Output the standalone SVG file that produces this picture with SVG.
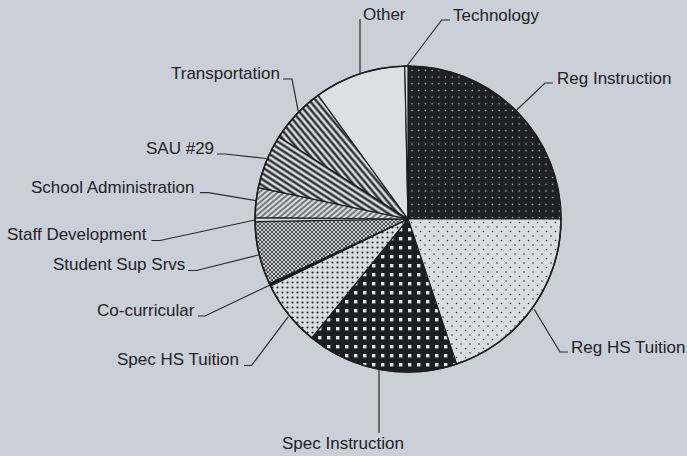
<svg xmlns="http://www.w3.org/2000/svg" width="687" height="456" viewBox="0 0 687 456">
<style>
.lbl{font-family:"Liberation Sans",Arial,sans-serif;font-size:17px;fill:#222226}
.sl{stroke:#1c1c22;stroke-width:1.2;stroke-linejoin:round}
.ld{fill:none;stroke:#2a2a30;stroke-width:1.2}
</style>
<defs>
<pattern id="pRI" width="6.7" height="6.7" patternUnits="userSpaceOnUse">
<rect width="6.7" height="6.7" fill="#1e1f27"/><circle cx="3.3" cy="3.3" r="0.75" fill="#d8dae2"/>
</pattern>
<pattern id="pRHS" width="9" height="9" patternUnits="userSpaceOnUse">
<rect width="9" height="9" fill="#d9dce2"/><circle cx="2" cy="2" r="0.8" fill="#25252c"/><circle cx="6.5" cy="6.5" r="0.8" fill="#25252c"/>
</pattern>
<pattern id="pSI" width="9" height="9" patternUnits="userSpaceOnUse">
<rect width="9" height="9" fill="#1c1d25"/><rect x="3" y="3" width="3.4" height="3.4" fill="#e2e4ea"/>
</pattern>
<pattern id="pSHS" width="5" height="5" patternUnits="userSpaceOnUse">
<rect width="5" height="5" fill="#d9dce2"/><circle cx="2.5" cy="2.5" r="1.05" fill="#222229"/>
</pattern>
<pattern id="pSSS" width="4" height="4" patternUnits="userSpaceOnUse">
<rect width="4" height="4" fill="#c9ccd2"/><path d="M0 0L4 4M0 4L4 0" stroke="#2a2a32" stroke-width="0.8"/>
</pattern>
<pattern id="pSA" width="4" height="4" patternUnits="userSpaceOnUse" patternTransform="rotate(-40)">
<rect width="4" height="4" fill="#d9dce2"/><line x1="0" y1="2" x2="4" y2="2" stroke="#25252c" stroke-width="1.1"/>
</pattern>
<pattern id="pSAU" width="5" height="5" patternUnits="userSpaceOnUse" patternTransform="rotate(33)">
<rect width="5" height="5" fill="#d9dce2"/><line x1="0" y1="2.5" x2="5" y2="2.5" stroke="#1e1e25" stroke-width="2.2"/>
</pattern>
<pattern id="pTR" width="5" height="5" patternUnits="userSpaceOnUse" patternTransform="rotate(50)">
<rect width="5" height="5" fill="#d9dce2"/><line x1="0" y1="2.5" x2="5" y2="2.5" stroke="#1e1e25" stroke-width="2.2"/>
</pattern>
</defs>
<rect width="687" height="456" fill="#cbd0d8"/>

<g id="reg-instruction"><path class="sl" fill="url(#pRI)" d="M408 219L408 66A153 153 0 0 1 561 219Z"/><text class="lbl" x="557" y="84">Reg Instruction</text></g>
<g id="reg-hs-tuition"><path class="sl" fill="url(#pRHS)" d="M408 219L561 219A153 153 0 0 1 456.55 364.09Z"/><text class="lbl" x="571" y="352.5">Reg HS Tuition</text></g>
<g id="spec-instruction"><path class="sl" fill="url(#pSI)" d="M408 219L456.55 364.09A153 153 0 0 1 311.71 337.9Z"/><text class="lbl" x="282" y="449">Spec Instruction</text></g>
<g id="spec-hs-tuition"><path class="sl" fill="url(#pSHS)" d="M408 219L311.71 337.9A153 153 0 0 1 270.48 286.07Z"/><text class="lbl" x="117" y="365">Spec HS Tuition</text></g>
<g id="co-curricular"><path class="sl" fill="#1c1d25" d="M408 219L270.48 286.07A153 153 0 0 1 269.34 283.66Z"/><text class="lbl" x="97" y="316">Co-curricular</text></g>
<g id="student-sup-srvs"><path class="sl" fill="url(#pSSS)" d="M408 219L269.34 283.66A153 153 0 0 1 255.02 221.67Z"/><text class="lbl" x="53" y="270">Student Sup Srvs</text></g>
<g id="staff-development"><path class="sl" fill="#d9dce2" d="M408 219L255.02 221.67A153 153 0 0 1 255.01 217.66Z"/><text class="lbl" x="7" y="240">Staff Development</text></g>
<g id="school-administration"><path class="sl" fill="url(#pSA)" d="M408 219L255.01 217.66A153 153 0 0 1 258.23 187.71Z"/><text class="lbl" x="31" y="193">School Administration</text></g>
<g id="sau-29"><path class="sl" fill="url(#pSAU)" d="M408 219L258.23 187.71A153 153 0 0 1 278.96 136.79Z"/><text class="lbl" x="146" y="154">SAU #29</text></g>
<g id="transportation"><path class="sl" fill="url(#pTR)" d="M408 219L278.96 136.79A153 153 0 0 1 318.07 95.22Z"/><text class="lbl" x="171" y="79">Transportation</text></g>
<g id="other"><path class="sl" fill="#dcdfe4" d="M408 219L318.07 95.22A153 153 0 0 1 404.8 66.03Z"/><text class="lbl" x="363" y="20">Other</text></g>
<g id="technology"><path class="sl" fill="#dcdfe4" d="M408 219L404.8 66.03A153 153 0 0 1 408 66Z"/><text class="lbl" x="453" y="21">Technology</text></g>
<circle cx="408" cy="219" r="153" fill="none" stroke="#1c1c22" stroke-width="1.6"/>

<g id="connectors">
<polyline class="ld" points="553,83 545,83 516.7,110"/>
<polyline class="ld" points="568,352 560,352 534,309"/>
<polyline class="ld" points="379,370 379,433"/>
<polyline class="ld" points="244,365.5 251.5,365.5 288.3,316.7"/>
<polyline class="ld" points="198,316 205,316 270,285"/>
<polyline class="ld" points="188,270.5 196.5,270.5 258.3,255"/>
<polyline class="ld" points="151.5,240.5 160,240.5 255,220"/>
<polyline class="ld" points="200,192.7 208.3,192.7 256.7,200.7"/>
<polyline class="ld" points="217,154 225,154 266.7,158.5"/>
<polyline class="ld" points="283,79 292,79 298.3,111.7"/>
<polyline class="ld" points="360,19 360,73.7"/>
<polyline class="ld" points="450,20 441.7,20 406.5,66.5"/>
</g>
</svg>
